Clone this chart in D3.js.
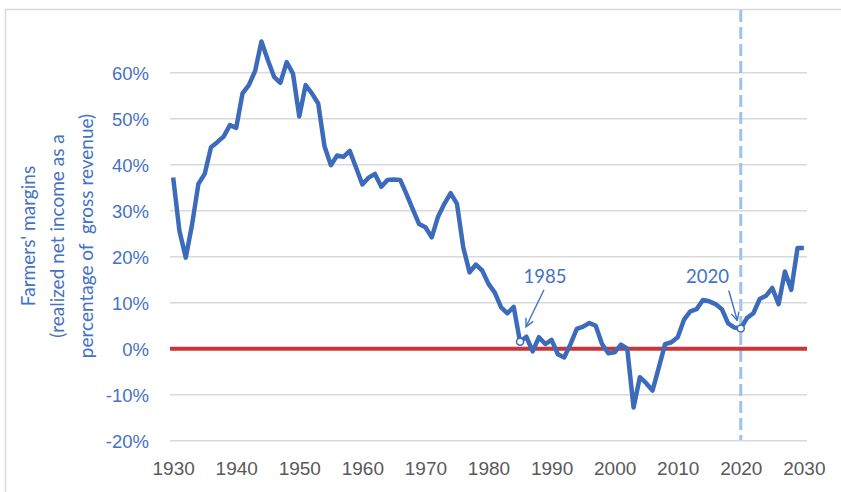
<!DOCTYPE html>
<html>
<head>
<meta charset="utf-8">
<script src="https://cdn.jsdelivr.net/npm/d3@7"></script>
<style>
  body { margin: 0; background: #fff; }
  svg { display: block; font-family: Lato, "Open Sans", sans-serif; }
</style>
</head>
<body>
<div id="chart"></div>
<script>
// 数据：年份与农民利润率 (%)
const firstYear = 1930;
const lastYear = 2030;
const margins = [
  37.2, 25.6, 19.8, 27.0, 35.8, 38.0, 43.8, 44.9, 46.1, 48.6,   // 1930-1939
  48.0, 55.5, 57.3, 60.4, 66.8, 62.8, 59.1, 57.8, 62.3, 59.8,   // 1940-1949
  50.5, 57.3, 55.5, 53.3, 44.0, 39.9, 42.0, 41.7, 43.0, 39.4,   // 1950-1959
  35.7, 37.2, 38.0, 35.2, 36.7, 36.8, 36.7, 33.6, 30.3, 27.1,   // 1960-1969
  26.4, 24.2, 28.7, 31.5, 33.8, 31.5, 22.0, 16.6, 18.3, 17.0,   // 1970-1979
  14.1, 12.2, 9.0, 7.7, 9.1, 1.5, 2.6, -0.6, 2.5, 1.0,          // 1980-1989
  1.9, -1.2, -1.9, 1.0, 4.3, 4.8, 5.6, 5.0, 1.0, -1.0,          // 1990-1999
  -0.8, 0.9, 0.0, -12.8, -6.2, -7.5, -9.1, -4.1, 1.0, 1.4,      // 2000-2009
  2.5, 6.3, 8.1, 8.6, 10.6, 10.3, 9.7, 8.6, 5.5, 4.6,           // 2010-2019
  4.4, 6.7, 7.7, 10.8, 11.5, 13.2, 9.7, 16.8, 12.8, 21.9,       // 2020-2029
  21.9                                                          // 2030
];
const yTicks = [-20, -10, 0, 10, 20, 30, 40, 50, 60];
const xTicks = [1930, 1940, 1950, 1960, 1970, 1980, 1990, 2000, 2010, 2020, 2030];
const markedYears = [1985, 2020];
const titleLines = ["Farmers' margins", "(realized net income as a", "percentage of  gross revenue)"];

const width = 841, height = 492;
const blue = "#3D6BBB";
const labelBlue = "#4472C4";

const data = margins.map((v, i) => ({ year: firstYear + i, value: v }));

const svg = d3.select("#chart").append("svg").attr("width", width).attr("height", height);

// 外框
svg.append("rect")
  .attr("x", 5.5).attr("y", 9.5).attr("width", 860).attr("height", 500)
  .attr("fill", "none").attr("stroke", "#d9d9d9").attr("stroke-width", 1.5);

const x = d3.scaleLinear().domain([firstYear - 0.5, lastYear + 0.5]).range([170, 807]);
const y = d3.scaleLinear().domain([-20, 60]).range([440.7, 72.7]);

// 网格线
svg.append("g").selectAll("line").data(yTicks).join("line")
  .attr("x1", x.range()[0]).attr("x2", x.range()[1])
  .attr("y1", d => y(d)).attr("y2", d => y(d))
  .attr("stroke", "#d9d9d9").attr("stroke-width", 1.5);

// Y 轴标签
const yAxis = d3.axisLeft(y).tickValues(yTicks).tickSize(0).tickPadding(0)
  .tickFormat(d => d + "%");
svg.append("g").attr("transform", "translate(149,0)").call(yAxis)
  .call(g => g.select(".domain").remove())
  .call(g => g.selectAll("text").attr("font-size", 18.5).attr("font-family", null)
    .attr("fill", labelBlue).attr("dy", "0.35em"));

// X 轴标签
const xAxis = d3.axisBottom(x).tickValues(xTicks).tickSize(0).tickPadding(0)
  .tickFormat(d3.format("d"));
svg.append("g").attr("transform", "translate(0,461)").call(xAxis)
  .call(g => g.select(".domain").remove())
  .call(g => g.selectAll("text").attr("font-size", 19).attr("font-family", null)
    .attr("fill", "#595959").attr("dy", "0.71em"));

// Y 轴标题
const title = svg.append("text")
  .attr("transform", "translate(57,236) rotate(-90)")
  .attr("text-anchor", "middle").attr("font-size", 19).attr("fill", labelBlue)
  .style("white-space", "pre");
titleLines.forEach((t, i) => {
  title.append("tspan").attr("x", 0).attr("y", (i - 1) * 29 + 7).text(t);
});

// 2020 虚线
svg.append("line")
  .attr("x1", x(2020)).attr("x2", x(2020)).attr("y1", 10).attr("y2", 440)
  .attr("stroke", "#9DC3E6").attr("stroke-width", 3).attr("stroke-dasharray", "12,5");

// 零线
svg.append("line")
  .attr("x1", x.range()[0]).attr("x2", x.range()[1]).attr("y1", y(0)).attr("y2", y(0))
  .attr("stroke", "#C9363A").attr("stroke-width", 4);

// 主折线
const line = d3.line().x(d => x(d.year)).y(d => y(d.value));
svg.append("path").datum(data)
  .attr("d", line).attr("fill", "none")
  .attr("stroke", blue).attr("stroke-width", 4.5)
  .attr("stroke-linejoin", "round").attr("stroke-linecap", "butt");

// 箭头
svg.append("defs").append("marker")
  .attr("id", "arrow").attr("viewBox", "0 0 10 10").attr("refX", 9).attr("refY", 5)
  .attr("markerWidth", 10).attr("markerHeight", 10).attr("markerUnits", "userSpaceOnUse")
  .attr("orient", "auto")
  .append("path").attr("d", "M1,1 L9,5 L1,9").attr("fill", "none")
  .attr("stroke", labelBlue).attr("stroke-width", 1.4);

const notes = [
  { year: 1985, tx: 545, from: [24, -52], to: [6, -15] },
  { year: 2020, tx: 707.5, from: [-12, -38], to: [-3.5, -8] }
];
notes.forEach(n => {
  const d = data.find(e => e.year === n.year);
  const px = x(d.year), py = y(d.value);
  svg.append("line")
    .attr("x1", px + n.from[0]).attr("y1", py + n.from[1])
    .attr("x2", px + n.to[0]).attr("y2", py + n.to[1])
    .attr("stroke", labelBlue).attr("stroke-width", 1.4)
    .attr("marker-end", "url(#arrow)");
  svg.append("text").attr("x", n.tx).attr("y", 283)
    .attr("text-anchor", "middle").attr("font-size", 18.5).attr("fill", labelBlue)
    .text(n.year);
});

// 标记点
svg.append("g").selectAll("circle").data(data.filter(d => markedYears.includes(d.year))).join("circle")
  .attr("cx", d => x(d.year)).attr("cy", d => y(d.value)).attr("r", 3.5)
  .attr("fill", "#fff").attr("stroke", blue).attr("stroke-width", 1.5);
</script>
</body>
</html>
